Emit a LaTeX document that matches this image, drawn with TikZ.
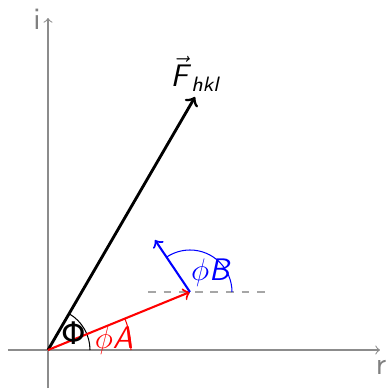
\documentclass[tikz,border=0pt]{standalone}
\usepackage{fontspec}
\usepackage{amsmath}
\newfontfamily\gk{DejaVu Sans}
\begin{document}
\begin{tikzpicture}[x=0.385pt,y=0.385pt,
  axis/.style={draw=gray!90,line width=0.4pt,->},
  lbl/.style={font=\sffamily\large},
  vecF/.style={draw=black,line width=1.1pt,->},
  vecA/.style={draw=red,line width=0.8pt,->},
  vecB/.style={draw=blue,line width=0.8pt,->}]
\useasboundingbox (0,0) rectangle (386,390);
\coordinate (O) at (48,40);
\coordinate (F) at (195,293);
\coordinate (A) at (190,98);
\coordinate (B) at (155,150);
\coordinate (hl) at (8,40);
\coordinate (hr) at (380,40);
\coordinate (vb) at (48,2);
\coordinate (vt) at (48,372);
\coordinate (dl) at (148,98);
\coordinate (dr) at (265,98);
\draw[axis] (hl) -- (hr);
\draw[axis] (vb) -- (vt);
\node[lbl,text=gray] (il) at (37,371) {i};
\node[lbl,text=gray] (rl) at (381,23) {r};
\draw[gray!70,dashed,line width=0.6pt] (dl) -- (dr);
\draw[black,line width=0.4pt] ([xshift=42*0.385pt]O) arc[start angle=0,end angle=60,radius=42];
\draw[red,line width=0.4pt] ([xshift=83*0.385pt]O) arc[start angle=0,end angle=22,radius=83];
\draw[blue,line width=0.4pt] ([xshift=42*0.385pt]A) arc[start angle=0,end angle=123,radius=42];
\draw[vecF] (O) -- (F);
\draw[vecA] (O) -- (A);
\draw[vecB] (A) -- (B);
\node[lbl] (Fl) at (196,316) {$\vec{\textsf{\textit{F}}}_{\textsf{\textit{hkl}}}$};
\node[lbl] (Phl) at (74,57) {\gk Φ};
\node[lbl,text=red] (pal) at (114,49) {$\phi$\textit{A}};
\node[lbl,text=blue] (pbl) at (211,117) {$\phi$\textit{B}};
\end{tikzpicture}
\end{document}
